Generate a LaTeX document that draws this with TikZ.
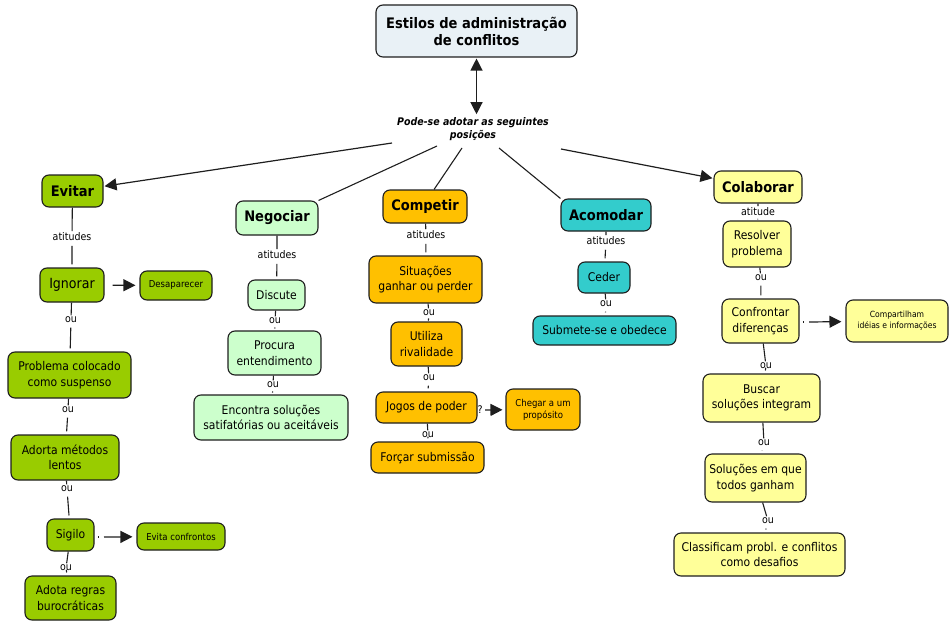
\documentclass[tikz,border=0pt]{standalone}
\usepackage{fontspec}
\setmainfont{DejaVu Sans Condensed}
\usetikzlibrary{arrows.meta}

\definecolor{evitarc}{RGB}{153,204,0}
\definecolor{negoc}{RGB}{204,255,204}
\definecolor{compc}{RGB}{255,192,0}
\definecolor{acomc}{RGB}{51,204,204}
\definecolor{colac}{RGB}{255,255,153}
\definecolor{titc}{RGB}{233,241,246}
\definecolor{edge}{RGB}{30,30,30}

\begin{document}
\begin{tikzpicture}[x=1pt,y=-1pt,
  box/.style={draw=edge, line width=1.1pt, rounded corners=7pt, align=center, inner sep=2pt},
  head/.style={box, font=\fontsize{14.5}{17}\selectfont\bfseries},
  txt/.style={box, font=\fontsize{12}{15.5}\selectfont},
  smalltxt/.style={box, font=\fontsize{9.5}{12}\selectfont},
  tinytxt/.style={box, font=\fontsize{8.5}{11}\selectfont},
  lbl/.style={font=\fontsize{10.5}{12}\selectfont, inner sep=1.5pt},
  link/.style={draw=edge, line width=1.1pt, shorten <=3pt, shorten >=3pt},
  arr/.style={draw=edge, line width=1.2pt, -{Triangle[length=12pt,width=12pt]}},
]
\useasboundingbox (0,0) rectangle (949,623);

% ---- central concept ----
\node[box, fill=titc, minimum width=201pt, minimum height=52pt,
      font=\fontsize{14.5}{17}\selectfont\bfseries] (title) at (476.5,31)
      {Estilos de administração\\de conflitos};
\node[font=\fontsize{10.5}{13}\selectfont\bfseries\itshape, align=center, inner sep=1pt]
      (pode) at (473,129) {Pode-se adotar as seguintes\\posições};
\draw[draw=edge, line width=1.2pt,
      {Triangle[length=12pt,width=12pt]}-{Triangle[length=12pt,width=12pt]},
      shorten <=1pt, shorten >=2pt]
      (title.south) -- (title.south |- pode.north);

% ---- five styles ----
\node[head, fill=evitarc, minimum width=61pt, minimum height=32pt] (evitar) at (72.5,191) {Evitar};
\node[head, fill=negoc, minimum width=82pt, minimum height=34pt] (negociar) at (277,218) {Negociar};
\node[head, fill=compc, minimum width=84pt, minimum height=33pt] (competir) at (425,206.5) {Competir};
\node[head, fill=acomc, minimum width=90pt, minimum height=32pt] (acomodar) at (606,215) {Acomodar};
\node[head, fill=colac, minimum width=88pt, minimum height=32pt] (colaborar) at (758,187) {Colaborar};

\coordinate (p1) at (392,143);
\coordinate (p2) at (437,146);
\coordinate (p3) at (462,148);
\coordinate (p4) at (499,148);
\coordinate (p5) at (561,149);
\draw[arr, shorten >=1pt] (p1) -- (evitar);
\draw[draw=edge, line width=1.1pt] (p2) -- (negociar.north east);
\draw[draw=edge, line width=1.1pt] (p3) -- (competir.62);
\draw[draw=edge, line width=1.1pt] (p4) -- (acomodar.north west);
\draw[arr, shorten >=1pt] (p5) -- (colaborar);

% ---- Evitar ----
\node[txt, fill=evitarc, minimum width=64pt, minimum height=34pt,
      font=\fontsize{14}{17}\selectfont] (ignorar) at (72,285) {Ignorar};
\node[smalltxt, fill=evitarc, minimum width=72pt, minimum height=29pt] (desap) at (176,285.5) {Desaparecer};
\node[txt, fill=evitarc, minimum width=123pt, minimum height=46pt] (problema) at (69.5,375) {Problema colocado\\como suspenso};
\node[txt, fill=evitarc, minimum width=108pt, minimum height=45pt] (adorta) at (65,457.5) {Adorta métodos\\lentos};
\node[txt, fill=evitarc, minimum width=47pt, minimum height=32pt] (sigilo) at (70.5,535) {Sigilo};
\node[smalltxt, fill=evitarc, minimum width=88pt, minimum height=27pt] (evita) at (181,536.5) {Evita confrontos};
\node[txt, fill=evitarc, minimum width=91pt, minimum height=44pt] (adota) at (70.5,598) {Adota regras\\burocráticas};

\node[lbl] (e0) at (72,237) {atitudes};
\node[lbl] (e1) at (71,320) {ou};
\node[lbl] (e2) at (68,410) {ou};
\node[lbl] (e3) at (67,489) {ou};
\node[lbl] (e4) at (66,568) {ou};
\draw[link] (evitar) -- (e0) -- (ignorar);
\draw[link] (ignorar) -- (e1) -- (problema);
\draw[link] (problema) -- (e2) -- (adorta);
\draw[link] (adorta) -- (e3) -- (sigilo);
\draw[link] (sigilo) -- (e4) -- (adota);
\draw[arr, shorten <=8pt, shorten >=4pt] (ignorar) -- (desap);
\coordinate (sg) at (104,537);
\draw[draw=edge, line width=1.1pt, shorten <=4pt] (sigilo.east |- sg) -- ++(3,0);
\draw[arr, shorten >=4pt] (sg) -- (evita);

% ---- Negociar ----
\node[txt, fill=negoc, minimum width=57pt, minimum height=30pt] (discute) at (276.5,295) {Discute};
\node[txt, fill=negoc, minimum width=93pt, minimum height=44pt] (procura) at (274.5,353) {Procura\\entendimento};
\node[txt, fill=negoc, minimum width=154pt, minimum height=45pt] (encontra) at (271,417.5) {Encontra soluções\\satifatórias ou aceitáveis};
\node[lbl] (n0) at (277,255) {atitudes};
\node[lbl] (n1) at (275,321) {ou};
\node[lbl] (n2) at (273,385) {ou};
\draw[link] (negociar) -- (n0) -- (discute);
\draw[link] (discute) -- (n1) -- (procura);
\draw[link] (procura) -- (n2) -- (encontra);

% ---- Competir ----
\node[txt, fill=compc, minimum width=113pt, minimum height=47pt] (situacoes) at (425.5,279.5) {Situações\\ganhar ou perder};
\node[txt, fill=compc, minimum width=71pt, minimum height=44pt] (utiliza) at (426.5,344) {Utiliza\\rivalidade};
\node[txt, fill=compc, minimum width=101pt, minimum height=31pt] (jogos) at (426.5,407.5) {Jogos de poder};
\node[smalltxt, fill=compc, minimum width=74pt, minimum height=41pt] (chegar) at (543,409.5) {Chegar a um\\propósito};
\node[txt, fill=compc, minimum width=113pt, minimum height=31pt] (forcar) at (427.5,457.5) {Forçar submissão};
\node[lbl] (c0) at (426,235) {atitudes};
\node[lbl] (c1) at (429,313) {ou};
\node[lbl] (c2) at (429,378) {ou};
\node[lbl] (c3) at (428,435) {ou};
\node[lbl, inner sep=0.5pt] (cq) at (480,410) {?};
\draw[link] (competir) -- (c0) -- (situacoes);
\draw[link] (situacoes) -- (c1) -- (utiliza);
\draw[link] (utiliza) -- (c2) -- (jogos);
\draw[link] (jogos) -- (c3) -- (forcar);
\draw[arr, shorten <=2pt, shorten >=3pt] (cq) -- (chegar);

% ---- Acomodar ----
\node[txt, fill=acomc, minimum width=52pt, minimum height=31pt] (ceder) at (604,277.5) {Ceder};
\node[txt, fill=acomc, minimum width=143pt, minimum height=29pt] (submete) at (604.5,330.5) {Submete-se e obedece};
\node[lbl] (a0) at (606,241) {atitudes};
\node[lbl] (a1) at (606,304) {ou};
\draw[link] (acomodar) -- (a0) -- (ceder);
\draw[link] (ceder) -- (a1) -- (submete);

% ---- Colaborar ----
\node[txt, fill=colac, minimum width=68pt, minimum height=46pt] (resolver) at (757,244) {Resolver\\problema};
\node[txt, fill=colac, minimum width=77pt, minimum height=44pt] (confrontar) at (760.5,321) {Confrontar\\diferenças};
\node[tinytxt, fill=colac, minimum width=102pt, minimum height=42pt] (compart) at (897,321) {Compartilham\\idéias e informações};
\node[txt, fill=colac, minimum width=117pt, minimum height=48pt] (buscar) at (761.5,398) {Buscar\\soluções integram};
\node[txt, fill=colac, minimum width=101pt, minimum height=48pt] (solucoes) at (755.5,478) {Soluções em que\\todos ganham};
\node[txt, fill=colac, minimum width=171pt, minimum height=43pt] (classif) at (759.5,554.5) {Classificam probl. e conflitos\\como desafios};
\node[lbl] (k0) at (758,212) {atitude};
\node[lbl] (k1) at (761,278) {ou};
\node[lbl] (k2) at (766,366) {ou};
\node[lbl] (k3) at (764,443) {ou};
\node[lbl] (k4) at (768,521) {ou};
\draw[link, shorten <=1pt, shorten >=1pt] (colaborar) -- (k0) -- (resolver);
\draw[link] (resolver) -- (k1) -- (confrontar);
\draw[link] (confrontar) -- (k2) -- (buscar);
\draw[link] (buscar) -- (k3) -- (solucoes);
\draw[link] (solucoes) -- (k4) -- (classif);
\coordinate (cf) at (809,322);
\draw[draw=edge, line width=1.1pt, shorten <=4pt] (confrontar.east |- cf) -- ++(3,0);
\draw[arr, shorten >=4pt] (cf) -- (compart);

\end{tikzpicture}
\end{document}
